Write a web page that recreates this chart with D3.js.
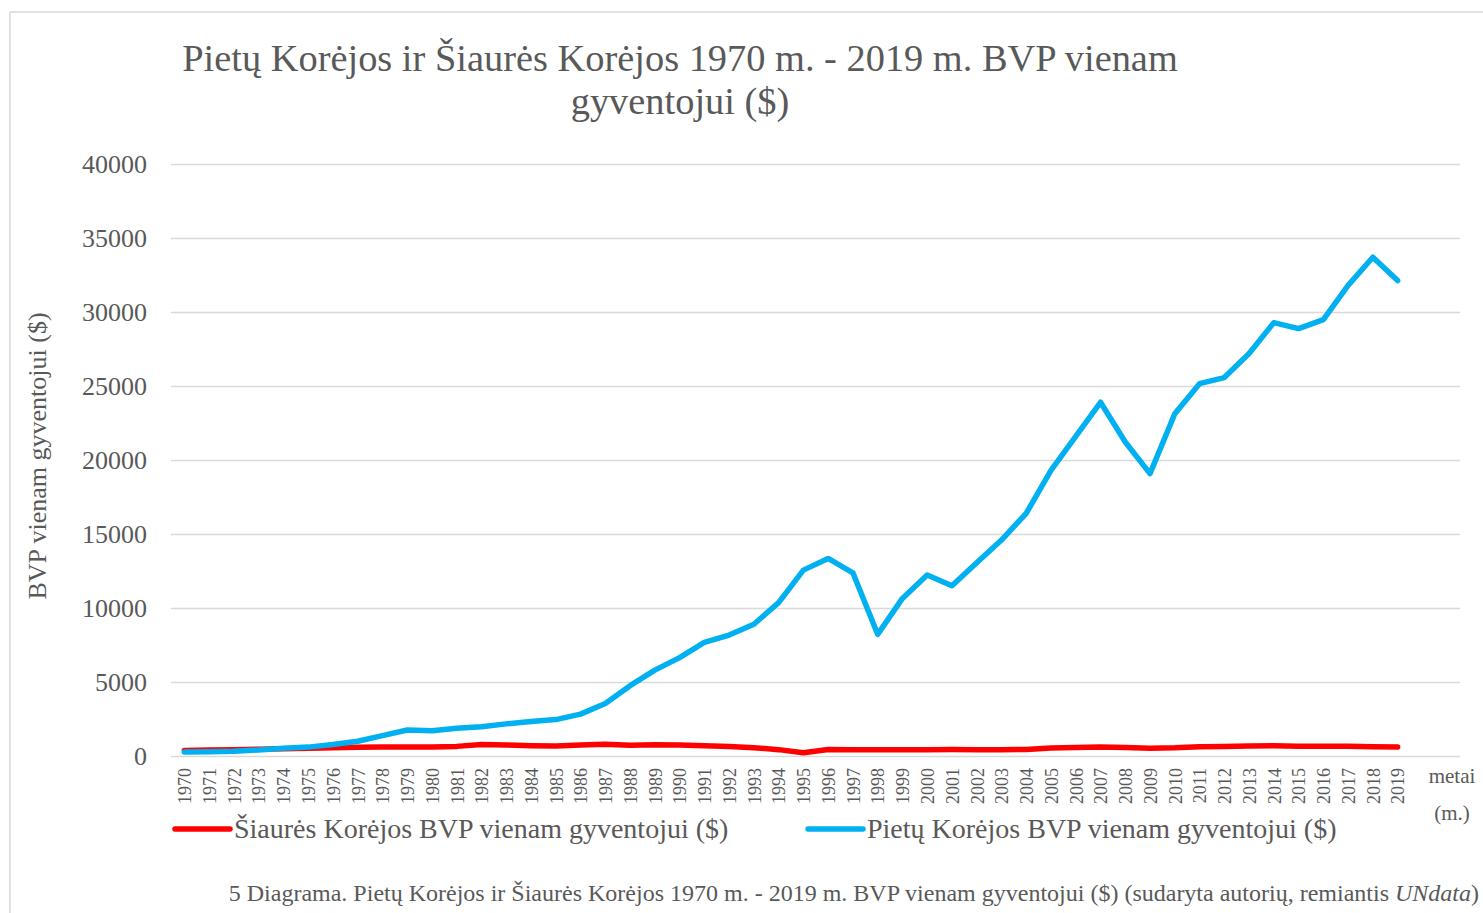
<!DOCTYPE html>
<html>
<head>
<meta charset="utf-8">
<script src="https://cdn.jsdelivr.net/npm/d3@7"></script>
<style>
  body { margin: 0; background: #fff; }
  svg { display: block; font-family: "Liberation Serif", "Times New Roman", serif; }
</style>
</head>
<body>
<svg width="1483" height="913"></svg>
<script>
// Data
const years = d3.range(1970, 2020);
const northKorea = [380, 400, 430, 460, 490, 520, 550, 585, 600, 610,
  610, 650, 770, 745, 700, 680, 745, 790, 720, 765,
  745, 700, 650, 565, 430, 225, 440, 430, 425, 425,
  430, 440, 430, 430, 440, 540, 580, 605, 580, 520,
  550, 630, 650, 675, 700, 655, 655, 655, 630, 610];
const southKorea = [270, 290, 320, 410, 530, 600, 780, 1000, 1380, 1760,
  1700, 1870, 1970, 2170, 2330, 2460, 2830, 3550, 4750, 5800,
  6650, 7680, 8170, 8900, 10360, 12560, 13350, 12380, 8220, 10650,
  12230, 11500, 13060, 14590, 16400, 19300, 21600, 23900, 21220, 19080,
  23130, 25160, 25570, 27190, 29280, 28880, 29490, 31800, 33700, 32120];
const yTicks = [0, 5000, 10000, 15000, 20000, 25000, 30000, 35000, 40000];
const seriesNames = ["Šiaurės Korėjos BVP vienam gyventojui ($)", "Pietų Korėjos BVP vienam gyventojui ($)"];
const seriesColors = ["#ff0000", "#00b0f0"];

const textColor = "#595959";
const svg = d3.select("svg");

// outer frame (top and left edge only are visible)
svg.append("line").attr("x1", 10).attr("x2", 1483).attr("y1", 12).attr("y2", 12)
  .attr("stroke", "#d9d9d9").attr("stroke-width", 1.5);
svg.append("line").attr("x1", 10).attr("x2", 10).attr("y1", 12).attr("y2", 913)
  .attr("stroke", "#d9d9d9").attr("stroke-width", 1.5);

// scales
const x = d3.scalePoint().domain(years).range([172, 1410]).padding(0.5);
const y = d3.scaleLinear().domain([0, 40000]).range([756, 164]);
const gridLeft = 171, gridRight = 1460;

// y axis with gridlines
const yAxis = svg.append("g")
  .attr("transform", `translate(${gridLeft},0)`)
  .call(d3.axisLeft(y).tickValues(yTicks).tickSize(-(gridRight - gridLeft)).tickPadding(24).tickFormat(d => d));
yAxis.select(".domain").remove();
yAxis.selectAll(".tick line").attr("stroke", "#d9d9d9").attr("stroke-width", 1.5);
yAxis.selectAll(".tick text")
  .attr("fill", textColor)
  .style("font-size", "26px")
  .style("font-family", "Liberation Serif");

// x axis, rotated year labels
const xAxis = svg.append("g")
  .attr("transform", `translate(0,${y(0)})`)
  .call(d3.axisBottom(x).tickSize(0));
xAxis.select(".domain").remove();
xAxis.selectAll(".tick text")
  .attr("transform", "rotate(-90)")
  .attr("x", -12)
  .attr("y", 0)
  .attr("dy", "0.35em")
  .style("text-anchor", "end")
  .style("font-size", "18px")
  .style("font-family", "Liberation Serif")
  .attr("fill", textColor);

// lines
const line = d3.line()
  .x((d, i) => x(years[i]))
  .y(d => y(d));

[northKorea, southKorea].forEach((vals, i) => {
  svg.append("path")
    .datum(vals)
    .attr("fill", "none")
    .attr("stroke", seriesColors[i])
    .attr("stroke-width", 5.5)
    .attr("stroke-linejoin", "round")
    .attr("stroke-linecap", "round")
    .attr("d", line);
});

// title
const title = svg.append("text")
  .attr("text-anchor", "middle")
  .attr("fill", textColor)
  .style("font-size", "38.4px");
title.append("tspan").attr("x", 680).attr("y", 71)
  .text("Pietų Korėjos ir Šiaurės Korėjos 1970 m. - 2019 m. BVP vienam");
title.append("tspan").attr("x", 680).attr("y", 114)
  .text("gyventojui ($)");

// y axis title
svg.append("text")
  .attr("transform", "translate(46,456) rotate(-90)")
  .attr("text-anchor", "middle")
  .attr("fill", textColor)
  .style("font-size", "26px")
  .text("BVP vienam gyventojui ($)");

// x axis title
svg.append("text").attr("x", 1452).attr("y", 783)
  .attr("text-anchor", "middle").attr("fill", textColor)
  .style("font-size", "21px").text("metai");
svg.append("text").attr("x", 1452).attr("y", 820)
  .attr("text-anchor", "middle").attr("fill", textColor)
  .style("font-size", "21px").text("(m.)");

// legend
const legendX = [175, 808];
seriesNames.forEach((name, i) => {
  const g = svg.append("g").attr("transform", `translate(${legendX[i]},829)`);
  g.append("line").attr("x1", 0).attr("x2", 55).attr("y1", 0).attr("y2", 0)
    .attr("stroke", seriesColors[i]).attr("stroke-width", 5.5).attr("stroke-linecap", "round");
  g.append("text").attr("x", 59).attr("y", 9)
    .attr("fill", textColor).style("font-size", "28px").text(name);
});

// caption
const cap = svg.append("text").attr("x", 1479).attr("y", 901)
  .attr("text-anchor", "end").attr("fill", textColor).style("font-size", "24px");
cap.append("tspan").text("5 Diagrama. Pietų Korėjos ir Šiaurės Korėjos 1970 m. - 2019 m. BVP vienam gyventojui ($) (sudaryta autorių, remiantis ");
cap.append("tspan").style("font-style", "italic").text("UNdata");
cap.append("tspan").text(")");
</script>
</body>
</html>
